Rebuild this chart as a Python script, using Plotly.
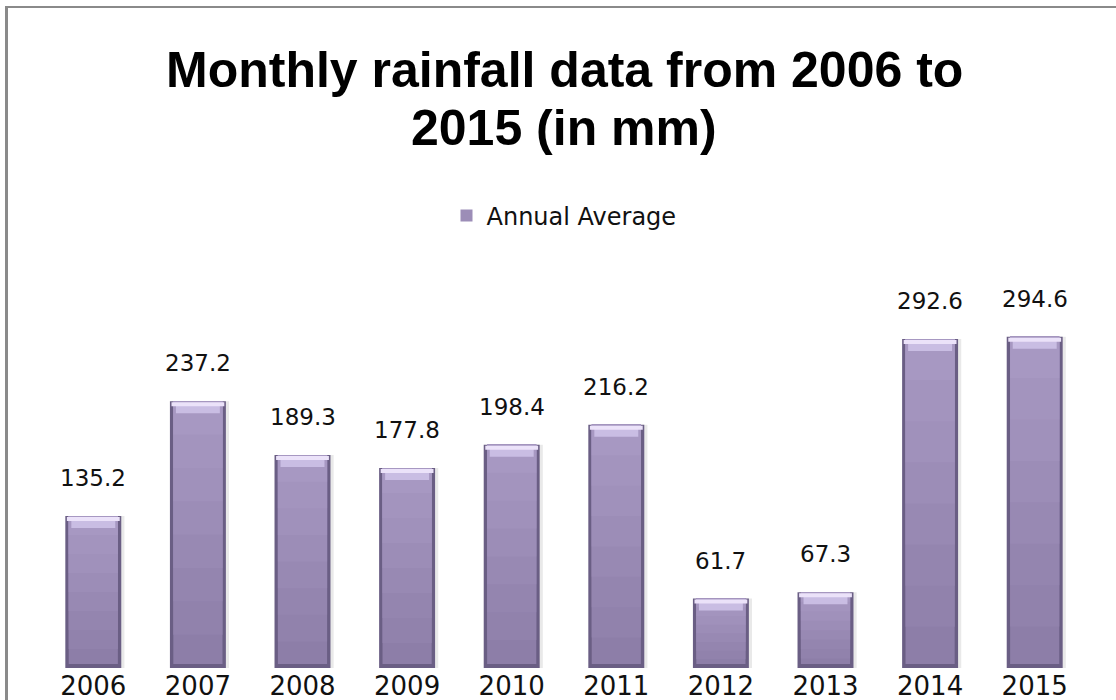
import plotly.graph_objects as go

# ---- data ----
years = ["2006", "2007", "2008", "2009", "2010", "2011", "2012", "2013", "2014", "2015"]
annual_average = [135.2, 237.2, 189.3, 177.8, 198.4, 216.2, 61.7, 67.3, 292.6, 294.6]
series_name = "Annual Average"
title_line1 = "Monthly rainfall data from 2006 to"
title_line2 = "2015 (in mm)"

# ---- style ----
W, H = 1116, 700
ML, MR, MT, MB = 41, 29, 280, 32
Y_MAX = 345
PX_PER_UNIT = (H - MT - MB) / Y_MAX
u = lambda px: px / PX_PER_UNIT  # pixel size -> data units

BAR_W = 0.535
RIM_W = 0.47
rim_color = "#6A5E84"
hl1_color = "#EBE2F9"
hl2_color = "#C9BDE3"
shadow_color = "#E9E9E9"
N_BANDS = 8
BOTTOM_RGB = (0x8D, 0x7E, 0xA8)
TOP_RGB = (0xA7, 0x98, 0xC2)


def band_color(k):
    t = k / (N_BANDS - 1)
    r, g, b = (round(a + (c - a) * t) for a, c in zip(BOTTOM_RGB, TOP_RGB))
    return f"rgb({r},{g},{b})"


fig = go.Figure()

# soft shadow at the right side
fig.add_trace(go.Bar(x=years, y=annual_average, width=BAR_W, offset=-BAR_W / 2 + 0.03,
                     marker=dict(color=shadow_color, line=dict(width=0)),
                     showlegend=False, hoverinfo="skip"))
# dark rim
fig.add_trace(go.Bar(x=years, y=annual_average, width=BAR_W,
                     marker=dict(color=rim_color, line=dict(width=0)),
                     showlegend=False, hoverinfo="skip"))
# body, as a vertical gradient: each band runs from its start to the bar top,
# later (lighter) bands drawn over the earlier ones, so no seams appear
legend_band = N_BANDS // 2
for k in range(N_BANDS):
    f0 = k / N_BANDS
    base = [max(v * f0, u(4)) for v in annual_average]
    fig.add_trace(go.Bar(x=years, y=[v - b for v, b in zip(annual_average, base)], base=base,
                         width=RIM_W, name=series_name,
                         marker=dict(color=band_color(k), line=dict(width=0)),
                         showlegend=(k == legend_band),
                         hoverinfo="skip" if k != legend_band else None))
# top bevel
fig.add_trace(go.Bar(x=years, y=[u(9)] * len(years), base=[v - u(12) for v in annual_average],
                     width=RIM_W - 0.05,
                     marker=dict(color=hl2_color, line=dict(width=0)),
                     showlegend=False, hoverinfo="skip"))
fig.add_trace(go.Bar(x=years, y=[u(4)] * len(years), base=[v - u(5) for v in annual_average],
                     width=BAR_W - 0.03,
                     marker=dict(color=hl1_color, line=dict(width=0)),
                     showlegend=False, hoverinfo="skip"))

annotations = []
for i, v in enumerate(annual_average):
    annotations.append(dict(x=i, y=v, xref="x", yref="y", text=f"{v:.1f}", showarrow=False,
                            yanchor="bottom", yshift=23,
                            font=dict(family="DejaVu Sans", size=23, color="#111111")))

plot_h = H - MT - MB
plot_w = W - ML - MR
def py(px):
    return (H - MB - px) / plot_h
def pxx(px):
    return (px - ML) / plot_w

title_font = dict(family="Liberation Sans, Arial, sans-serif", size=50, color="#000000")
annotations.append(dict(x=0.5, y=py(70), xref="paper", yref="paper", text=f"<b>{title_line1}</b>",
                        showarrow=False, xanchor="center", yanchor="middle", font=title_font))
annotations.append(dict(x=0.5, y=py(128), xref="paper", yref="paper", text=f"<b>{title_line2}</b>",
                        showarrow=False, xanchor="center", yanchor="middle", font=title_font))

shapes = [
    dict(type="line", xref="paper", yref="paper", x0=pxx(6.5), x1=pxx(6.5), y0=py(720), y1=py(6),
         line=dict(color="#8A8A8A", width=3)),
    dict(type="line", xref="paper", yref="paper", x0=pxx(5), x1=pxx(1130), y0=py(7), y1=py(7),
         line=dict(color="#8A8A8A", width=2)),
]

fig.update_layout(
    width=W, height=H,
    margin=dict(l=ML, r=MR, t=MT, b=MB, autoexpand=False),
    paper_bgcolor="white", plot_bgcolor="white",
    barmode="overlay",
    showlegend=True,
    legend=dict(orientation="h", x=0.5, xanchor="center", y=py(216), yanchor="middle",
                font=dict(family="DejaVu Sans", size=24, color="#111111"),
                itemsizing="constant"),
    xaxis=dict(type="category", range=[-0.5, 9.5], showgrid=False, showline=False, zeroline=False,
               automargin=False,
               ticks="", tickfont=dict(family="DejaVu Sans", size=26, color="#111111")),
    yaxis=dict(range=[0, Y_MAX], showgrid=False, showline=False, zeroline=False, automargin=False,
               showticklabels=False, ticks=""),
    annotations=annotations,
    shapes=shapes,
)

fig.write_html("out.html", config={"displayModeBar": False},
               post_script="document.body.style.margin='0px';document.body.style.overflow='hidden';")
